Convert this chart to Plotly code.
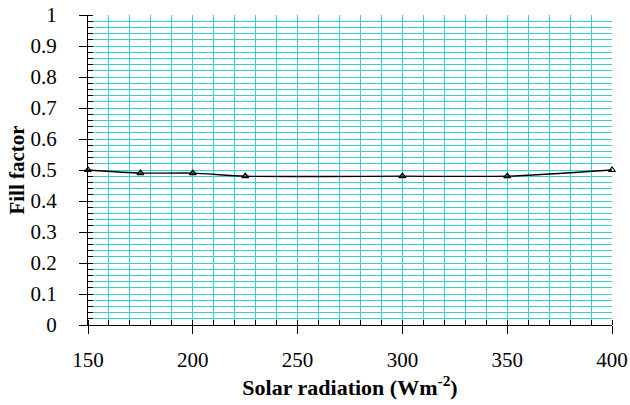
import plotly.graph_objects as go

radiation = [150, 175, 200, 225, 300, 350, 400]
fill_factor = [0.50, 0.49, 0.49, 0.48, 0.48, 0.48, 0.50]

grid = "#3ACFCF"
font = "Liberation Serif"

fig = go.Figure()
fig.add_trace(go.Scatter(
    x=radiation, y=fill_factor, mode="lines+markers",
    line=dict(color="black", width=1.3, shape="spline", smoothing=0.6),
    marker=dict(symbol="triangle-up-open", size=6, color="black", line=dict(width=1.2)),
    cliponaxis=False, showlegend=False,
))

fig.update_layout(
    width=630, height=405,
    margin=dict(l=88, r=18, t=15, b=80, autoexpand=False),
    plot_bgcolor="white", paper_bgcolor="white",
    font=dict(family=font, size=21, color="black"),
    xaxis=dict(
        range=[150, 400], dtick=50, tick0=150,
        automargin=False,
        showline=True, linecolor="black", linewidth=1,
        ticks="outside", ticklen=8, tickcolor="black",
        ticklabelstandoff=8,
        showgrid=True, gridcolor=grid, gridwidth=1,
        zeroline=False,
        minor=dict(dtick=10, ticks="inside", ticklen=5, tickcolor="black",
                   showgrid=True, gridcolor=grid, gridwidth=1),
        title=dict(text="<b>Solar radiation (Wm<sup>-2</sup>)</b>",
                   font=dict(family=font, size=22), standoff=4),
    ),
    yaxis=dict(
        range=[0, 1], dtick=0.1, tick0=0,
        tickformat="~g",
        automargin=False,
        showline=True, linecolor="black", linewidth=1,
        ticks="outside", ticklen=8, tickcolor="black",
        ticklabelstandoff=18,
        showgrid=True, gridcolor=grid, gridwidth=1,
        zeroline=False,
        minor=dict(dtick=0.02, ticks="inside", ticklen=5, tickcolor="black",
                   showgrid=True, gridcolor=grid, gridwidth=1),
        title=dict(text="<b>Fill factor</b>", font=dict(family=font, size=21), standoff=0),
    ),
)

fig.write_html("out.html")
